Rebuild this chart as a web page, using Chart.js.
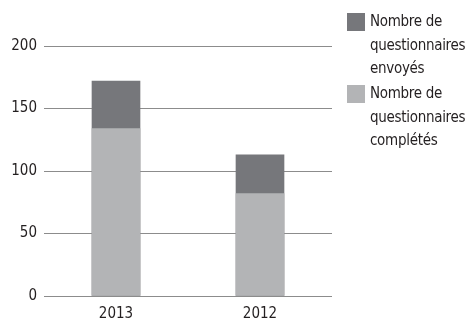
<!DOCTYPE html>
<html>
<head>
<meta charset="utf-8">
<script src="https://cdn.jsdelivr.net/npm/chart.js@4"></script>
<style>
  html, body { margin: 0; padding: 0; background: #fff; }
  #wrap { position: relative; width: 470px; height: 322px; }
  #legend { position: absolute; left: 347px; top: 13px; font-family: 'Liberation Sans Narrow', 'DejaVu Sans Condensed', sans-serif; font-size: 15px; line-height: 23.5px; color: #231f20; letter-spacing: -0.3px; }
  .item { display: flex; align-items: flex-start; margin-bottom: 4.5px; }
  .box { width: 18px; height: 18px; flex: none; margin-right: 5px; }
  .txt { width: 104px; margin-top: -3px; }
</style>
</head>
<body>
<div id="wrap">
  <canvas id="myChart" width="470" height="322"></canvas>
  <div id="legend"></div>
</div>
<script>
const ctx = document.getElementById('myChart');

// values
const years = ['2013', '2012'];
const envoyes = [172, 113];
const completes = [134, 82];
const yTicks = [0, 50, 100, 150, 200];
const seriesLabels = ['Nombre de questionnaires envoyés', 'Nombre de questionnaires complétés'];
const seriesColors = ['#76777b', '#b3b4b6'];

const font = { family: "'Liberation Sans Narrow', 'DejaVu Sans Condensed', sans-serif", size: 15 };

new Chart(ctx, {
  type: 'bar',
  data: {
    labels: years,
    datasets: [{
      label: seriesLabels[0],
      backgroundColor: seriesColors[0],
      data: envoyes,
      order: 2
    }, {
      label: seriesLabels[1],
      backgroundColor: seriesColors[1],
      data: completes,
      order: 1
    }]
  },
  options: {
    responsive: false,
    animation: false,
    layout: { padding: { top: 46, right: 138, left: 0, bottom: 0 } },
    plugins: { legend: { display: false }, tooltip: { enabled: false } },
    datasets: { bar: { barThickness: 48 } },
    scales: {
      x: {
        stacked: true,
        grid: { display: false },
        border: { display: false },
        ticks: { color: '#231f20', font: font, padding: 1 },
        afterFit: s => { s.height = 26; }
      },
      y: {
        stacked: false,
        min: 0,
        max: 200,
        afterBuildTicks: s => { s.ticks = yTicks.map(v => ({ value: v })); },
        grid: { color: '#8c8c8c', lineWidth: 1, drawTicks: false },
        border: { display: false },
        ticks: { color: '#231f20', font: font, padding: 7 },
        afterFit: s => { s.width = 44; }
      }
    }
  }
});

// legend built from the dataset labels
const legend = document.getElementById('legend');
seriesLabels.forEach((lab, i) => {
  const item = document.createElement('div');
  item.className = 'item';
  item.innerHTML = '<div class="box" style="background:' + seriesColors[i] + '"></div><div class="txt">' + lab + '</div>';
  legend.appendChild(item);
});
</script>
</body>
</html>
